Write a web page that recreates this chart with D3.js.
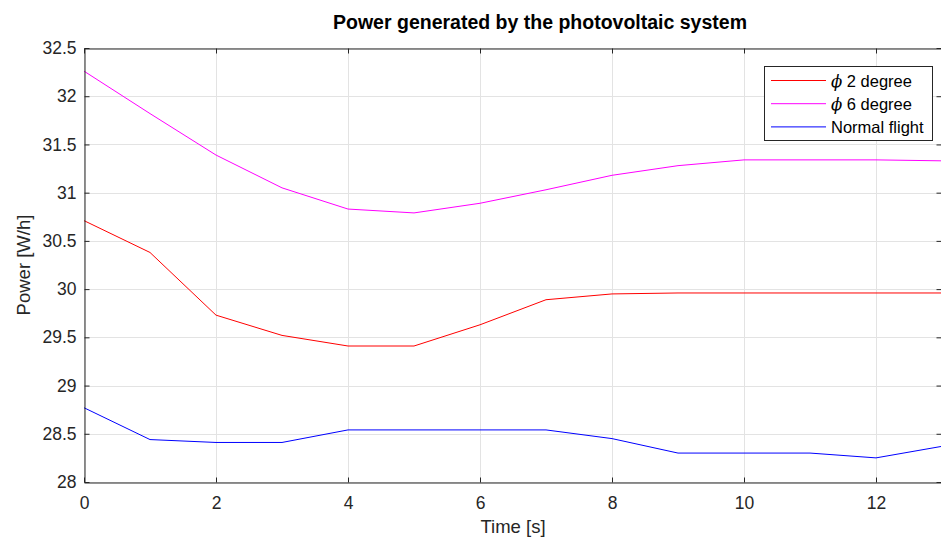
<!DOCTYPE html>
<html><head><meta charset="utf-8">
<script src="https://cdn.jsdelivr.net/npm/d3@7"></script>
<style>
body{margin:0;background:#fff;}
text{font-family:"Liberation Sans",Arial,Helvetica,sans-serif;}
</style></head>
<body><svg id="c" width="941" height="541"></svg>
<script>
const time = [0,1,2,3,4,5,6,7,8,9,10,11,12,13];
const phi2 = [30.71,30.38,29.73,29.52,29.41,29.41,29.63,29.89,29.95,29.96,29.96,29.96,29.96,29.96];
const phi6 = [32.26,31.82,31.39,31.05,30.83,30.79,30.89,31.03,31.18,31.28,31.34,31.34,31.34,31.33];
const normal = [28.77,28.44,28.41,28.41,28.54,28.54,28.54,28.54,28.45,28.30,28.30,28.30,28.25,28.37];
const xTicks = [0,2,4,6,8,10,12];
const yTicks = [28,28.5,29,29.5,30,30.5,31,31.5,32,32.5];
const seriesNames = ["2 degree","6 degree","Normal flight"];
const seriesColors = ["#ff0000","#ff00ff","#0000ff"];

const svg = d3.select("#c");
const L=84, R=942, T=48, B=482;
const x = d3.scaleLinear().domain([0,13]).range([L,R]);
const y = d3.scaleLinear().domain([28,32.5]).range([B,T]);
const ax="#262626", gc="#e3e3e3";

// grid
svg.append("g").selectAll("line").data(xTicks).join("line")
  .attr("x1",d=>x(d)+0.5).attr("x2",d=>x(d)+0.5).attr("y1",T).attr("y2",B).attr("stroke",gc);
svg.append("g").selectAll("line").data(yTicks).join("line")
  .attr("y1",d=>Math.round(y(d))+0.5).attr("y2",d=>Math.round(y(d))+0.5).attr("x1",L).attr("x2",R).attr("stroke",gc);

// lines
const line = d3.line().x((d,i)=>x(time[i])).y(d=>y(d));
svg.append("clipPath").attr("id","pc").append("rect").attr("x",L).attr("y",T).attr("width",R-L).attr("height",B-T);
[phi2,phi6,normal].forEach((s,i)=>{
  svg.append("path").datum(s).attr("d",line).attr("fill","none")
    .attr("stroke",seriesColors[i]).attr("stroke-width",1).attr("clip-path","url(#pc)");
});

// axes
const xa = svg.append("g").attr("transform",`translate(0,${B+0.5})`)
  .call(d3.axisBottom(x).tickValues(xTicks).tickFormat(d3.format("d")).tickSizeInner(-5).tickSizeOuter(0).tickPadding(14));
const xt = svg.append("g").attr("transform",`translate(0,${T+0.5})`)
  .call(d3.axisTop(x).tickValues(xTicks).tickFormat("").tickSizeInner(-5).tickSizeOuter(0));
const ya = svg.append("g").attr("transform",`translate(${L+0.5},0)`)
  .call(d3.axisLeft(y).tickValues(yTicks).tickFormat(d=>String(d)).tickSizeInner(-5).tickSizeOuter(0).tickPadding(8));
const yr = svg.append("g").attr("transform",`translate(${R-0.5},0)`)
  .call(d3.axisRight(y).tickValues(yTicks).tickFormat("").tickSizeInner(-5).tickSizeOuter(0));
[xa,xt,ya,yr].forEach(g=>{
  g.select(".domain").attr("stroke",ax);
  g.selectAll(".tick line").attr("stroke",ax);
  g.selectAll("text").attr("fill",ax).attr("font-size",17.5).attr("font-family","Liberation Sans, Arial, sans-serif");
});

// labels
svg.append("text").attr("x",540).attr("y",28.5).attr("text-anchor","middle")
  .attr("font-weight","bold").attr("font-size",19.5).attr("fill","#000")
  .text("Power generated by the photovoltaic system");
svg.append("text").attr("x",(L+R)/2).attr("y",533).attr("text-anchor","middle")
  .attr("font-size",18.5).attr("fill",ax).text("Time [s]");
svg.append("text").attr("transform",`translate(30,${(T+B)/2}) rotate(-90)`).attr("text-anchor","middle")
  .attr("font-size",18.5).attr("fill",ax).text("Power [W/h]");

// legend
const lg = svg.append("g");
lg.append("rect").attr("x",764.5).attr("y",66.5).attr("width",168).attr("height",74)
  .attr("fill","#fff").attr("stroke",ax);
seriesNames.forEach((n,i)=>{
  const yy = 80.5 + i*23.2;
  lg.append("line").attr("x1",771).attr("x2",826).attr("y1",yy).attr("y2",yy).attr("stroke",seriesColors[i]);
  const t = lg.append("text").attr("x",831).attr("y",yy+6).attr("font-size",16.5).attr("fill","#000");
  if(i<2){
    t.append("tspan").attr("font-family","DejaVu Serif, serif").attr("font-style","italic").text("ϕ");
    t.append("tspan").text(" "+n);
  } else t.text(n);
});
</script></body></html>
